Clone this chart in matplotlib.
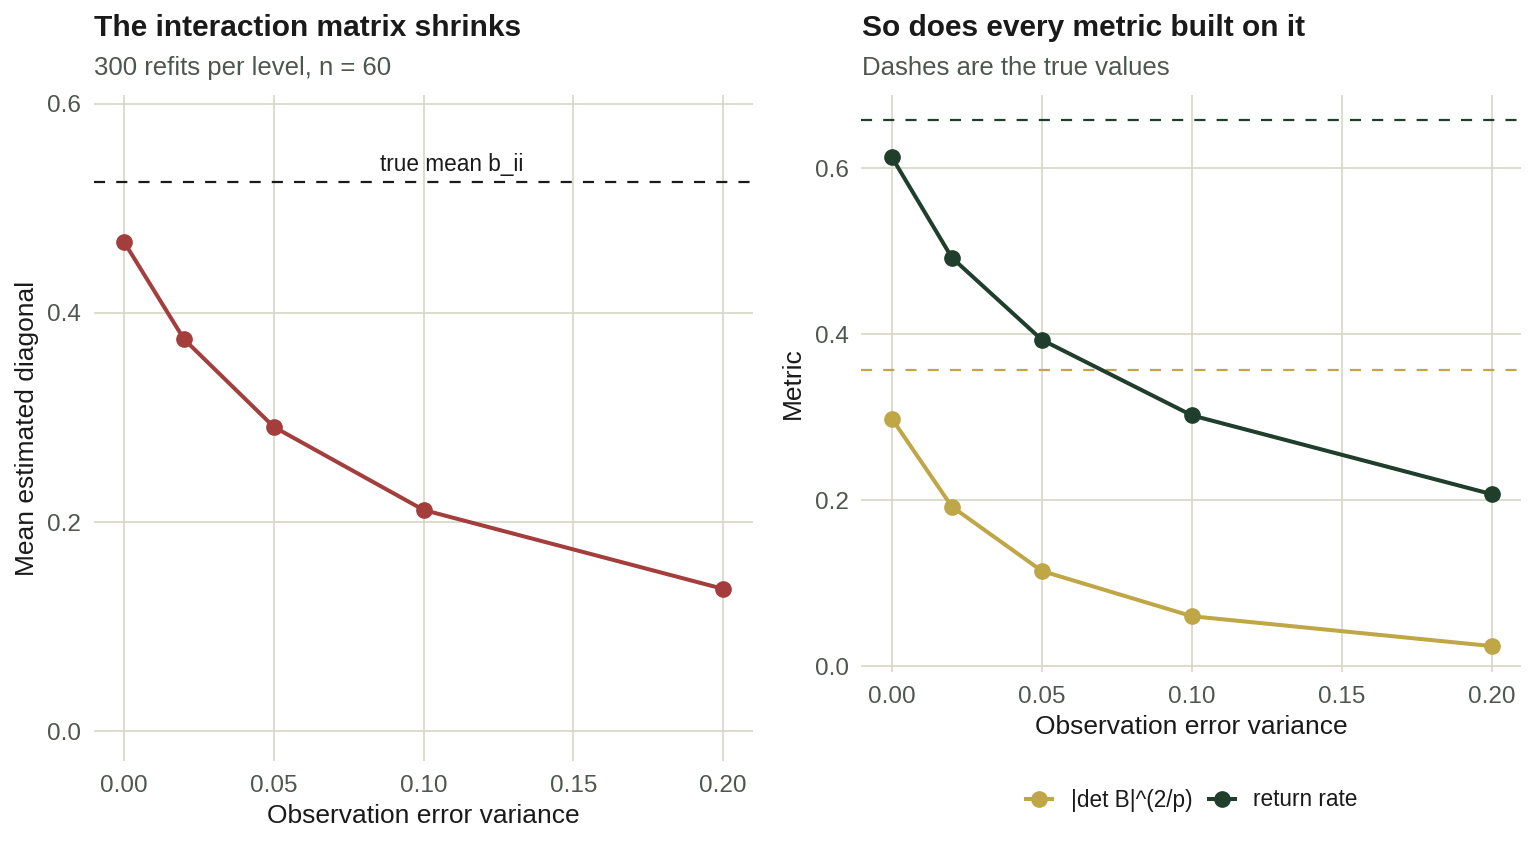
import matplotlib
matplotlib.use("Agg")
import matplotlib.pyplot as plt
from matplotlib.lines import Line2D

plt.rcParams['font.family'] = ['Liberation Sans', 'DejaVu Sans']

# Data
obs_var = [0.00, 0.02, 0.05, 0.10, 0.20]
mean_diag = [0.468, 0.375, 0.291, 0.2115, 0.136]
true_mean_bii = 0.525
det_metric = [0.298, 0.192, 0.1145, 0.060, 0.024]
return_rate = [0.613, 0.492, 0.393, 0.302, 0.207]
true_det = 0.357
true_return = 0.658
x_ticks = [0.00, 0.05, 0.10, 0.15, 0.20]
x_ticklabels = ['0.00', '0.05', '0.10', '0.15', '0.20']
y_ticks = [0.0, 0.2, 0.4, 0.6]
y_ticklabels = ['0.0', '0.2', '0.4', '0.6']
legend_labels = ['|det B|^(2/p)', 'return rate']

W, H = 1536, 844
fig = plt.figure(figsize=(W/100, H/100), dpi=100)
fig.patch.set_facecolor('white')

RED = '#A33E3D'
GOLD = '#BFA646'
DARK = '#1F3F2C'
GRID = '#D7D7C6'
TXT = '#4D574F'
DARKTXT = '#1A1A1A'

TICK_FS = 17.5
LAB_FS = 19
DASH = (0, (5, 5))
LW = 2.9
MS = 11

def ax_px(x0, y0, x1, y1):
    return fig.add_axes([x0/W, 1 - y1/H, (x1-x0)/W, (y1-y0)/H])

def style(ax):
    for s in ax.spines.values():
        s.set_visible(False)
    ax.grid(True, color=GRID, linewidth=1.2)
    ax.set_axisbelow(True)
    ax.tick_params(length=0, labelsize=TICK_FS, colors=TXT)
    ax.tick_params(axis='x', pad=10)
    ax.tick_params(axis='y', pad=9)
    ax.set_facecolor('white')
    ax.set_xticks(x_ticks)
    ax.set_xticklabels(x_ticklabels)
    ax.set_yticks(y_ticks)
    ax.set_yticklabels(y_ticklabels)

def labels(ax, xl, yl, xlab_y, ylab_x):
    ax.set_xlabel(xl, fontsize=LAB_FS, color=DARKTXT)
    ax.set_ylabel(yl, fontsize=LAB_FS, color=DARKTXT)
    ax.xaxis.set_label_coords(0.5, xlab_y)
    ax.yaxis.set_label_coords(ylab_x, 0.5)
    ax.xaxis.label.set_va('center')
    ax.yaxis.label.set_va('center')
    ax.yaxis.label.set_ha('center')

# Left panel
ax1 = ax_px(93.5, 95, 752.5, 761)
style(ax1)
ax1.axhline(true_mean_bii, color='#1A1A1A', linestyle=DASH, linewidth=1.6)
ax1.text(0.1095, true_mean_bii, 'true mean b_ii', ha='center', va='center',
         fontsize=16.3, color=DARKTXT,
         transform=ax1.transData + matplotlib.transforms.ScaledTranslation(0, 18/100, fig.dpi_scale_trans))
ax1.plot(obs_var, mean_diag, color=RED, linewidth=LW, marker='o', markersize=MS, zorder=3)
ax1.set_xlim(-0.0102, 0.2098)
ax1.set_ylim(-0.0287, 0.6086)
labels(ax1, 'Observation error variance', 'Mean estimated diagonal',
       (761 - 816) / 666, (27 - 93.5) / 659)

fig.text(94/W, 1 - 36/H, 'The interaction matrix shrinks', fontsize=21.5, fontweight='bold',
         color=DARKTXT, ha='left', va='baseline')
fig.text(94/W, 1 - 75/H, '300 refits per level, n = 60', fontsize=18.5, color=TXT,
         ha='left', va='baseline')

# Right panel
ax2 = ax_px(861, 95, 1521, 672)
style(ax2)
ax2.axhline(true_return, color=DARK, linestyle=DASH, linewidth=1.6)
ax2.axhline(true_det, color=GOLD, linestyle=DASH, linewidth=1.6)
ax2.plot(obs_var, det_metric, color=GOLD, linewidth=LW, marker='o', markersize=MS, zorder=3)
ax2.plot(obs_var, return_rate, color=DARK, linewidth=LW, marker='o', markersize=MS, zorder=3)
ax2.set_xlim(-0.0103, 0.2097)
ax2.set_ylim(-0.0072, 0.688)
labels(ax2, 'Observation error variance', 'Metric',
       (672 - 727) / 577, (793 - 861) / 660)

fig.text(862/W, 1 - 36/H, 'So does every metric built on it', fontsize=21.5, fontweight='bold',
         color=DARKTXT, ha='left', va='baseline')
fig.text(862/W, 1 - 75/H, 'Dashes are the true values', fontsize=18.5, color=TXT,
         ha='left', va='baseline')

handles = [
    Line2D([0], [0], color=GOLD, linewidth=LW, marker='o', markersize=MS),
    Line2D([0], [0], color=DARK, linewidth=LW, marker='o', markersize=MS),
]
fig.legend(handles, legend_labels, loc='center',
           bbox_to_anchor=(1192/W, 1 - 800/H), ncol=2, frameon=False, fontsize=16.3,
           handlelength=1.15, handletextpad=0.8, columnspacing=0.75, labelcolor=DARKTXT)

fig.savefig('out.png', dpi=100, facecolor='white')
